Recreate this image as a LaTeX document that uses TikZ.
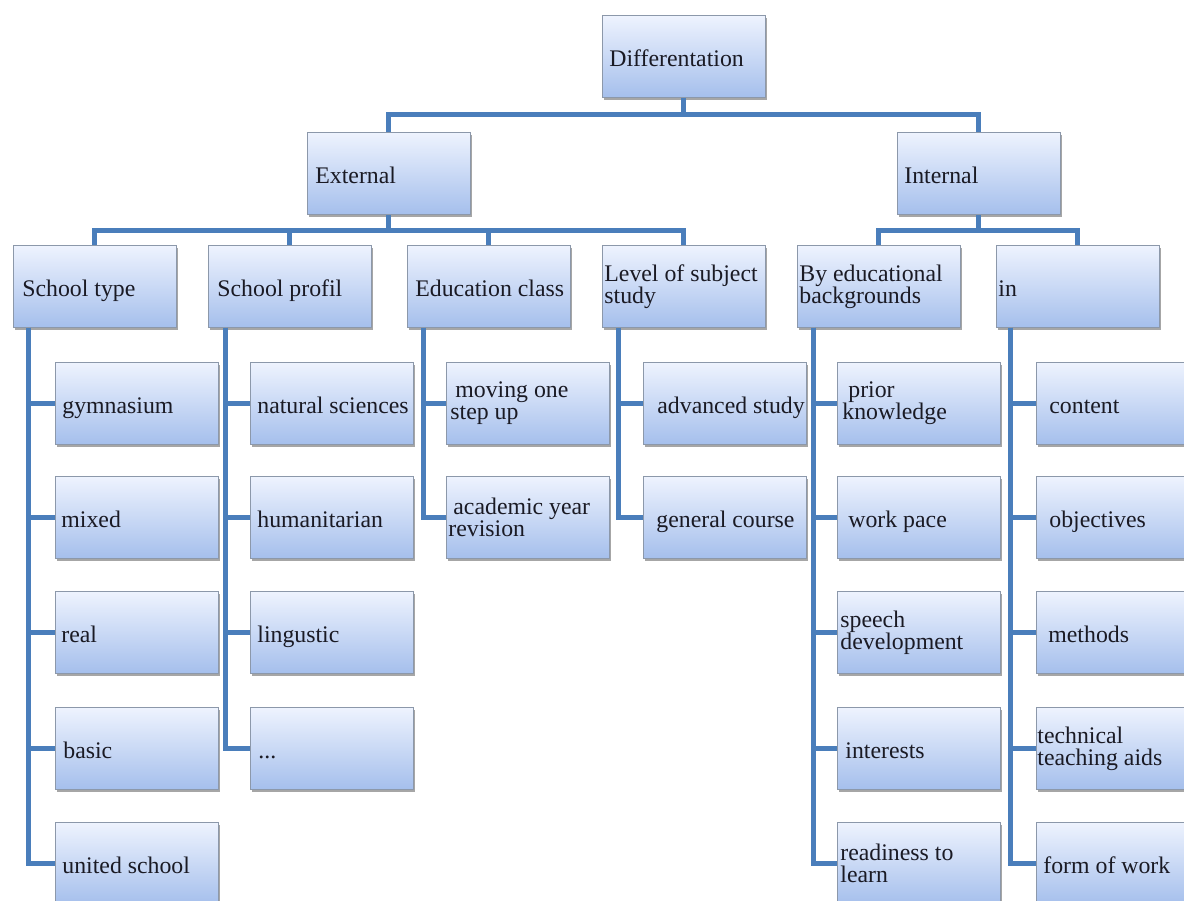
\documentclass[tikz,border=0pt]{standalone}
\usepackage{fontspec}
\setmainfont{Liberation Serif}
\usetikzlibrary{calc,shadows}
\setlength{\parindent}{0pt}
\definecolor{conn}{HTML}{4A7EBB}
\definecolor{boxtop}{HTML}{EEF3FE}
\definecolor{boxbot}{HTML}{A5BFEC}
\definecolor{boxline}{HTML}{8C98AA}
\definecolor{txt}{HTML}{1A1A24}
\tikzset{
  card/.style={rectangle, anchor=north west, draw=boxline, line width=0.8pt,
    top color=boxtop, bottom color=boxbot,
    minimum width=163pt, minimum height=82pt, text width=163pt,
    inner xsep=0pt, inner ysep=0pt, align=flush left,
    font=\fontsize{23.8pt}{22pt}\selectfont, text=txt,
    drop shadow={shadow xshift=1.5pt, shadow yshift=-2.5pt, opacity=0.35, fill=black}},
  one/.style={text height=20pt, text depth=0pt},
  link/.style={draw=conn, line width=5pt},
}
\begin{document}
\begin{tikzpicture}[x=1pt,y=-1pt]
\useasboundingbox (0,0) rectangle (1184,901);
\fill[white] (0,0) rectangle (1184,901);
\clip (0,0) rectangle (1184,901);

% level 0 and 1
\node[card,one] (diff) at (602,15) {\hspace*{7pt}Differentation};
\node[card,one] (ext) at (307,132) {\hspace*{8pt}External};
\node[card,one] (int) at (897,132) {\hspace*{7pt}Internal};

% level 2
\node[card,one] (st) at (13,245) {\hspace*{9pt}School type};
\node[card,one] (sp) at (208,245) {\hspace*{9pt}School profil};
\node[card,one] (ec) at (407,245) {\hspace*{8pt}\mbox{Education class}};
\node[card] (ls) at (602,245) {\hspace*{2pt}\mbox{Level of subject}\\\hspace*{2pt}study};
\node[card] (be) at (797,245) {\hspace*{2pt}\mbox{By educational}\\\hspace*{2pt}backgrounds};
\node[card,one] (inn) at (996,245) {\hspace*{2pt}in};

% School type children
\node[card,one] (gym) at (55,362) {\hspace*{7pt}gymnasium};
\node[card,one] (mix) at (55,476) {\hspace*{6pt}mixed};
\node[card,one] (real) at (55,591) {\hspace*{6pt}real};
\node[card,one] (basic) at (55,707) {\hspace*{8pt}basic};
\node[card,one] (unit) at (55,822) {\hspace*{7pt}united school};

% School profil children
\node[card,one] (nat) at (250,362) {\hspace*{7pt}\mbox{natural sciences}};
\node[card,one] (hum) at (250,476) {\hspace*{7pt}humanitarian};
\node[card,one] (ling) at (250,591) {\hspace*{7pt}lingustic};
\node[card,one] (dots) at (250,707) {\hspace*{8pt}...};

% Education class children
\node[card] (mov) at (446,362) {\hspace*{9pt}moving one\\\hspace*{4pt}step up};
\node[card] (acad) at (446,476) {\hspace*{7pt}\mbox{academic year}\\\hspace*{2pt}revision};

% Level of subject study children
\node[card,one] (adv) at (643,362) {\hspace*{14pt}\mbox{advanced study}};
\node[card,one] (gen) at (643,476) {\hspace*{13pt}\mbox{general course}};

% By educational backgrounds children
\node[card] (prior) at (837,362) {\hspace*{11pt}prior\\\hspace*{5pt}knowledge};
\node[card,one] (pace) at (837,476) {\hspace*{11pt}work pace};
\node[card] (speech) at (837,591) {\hspace*{3pt}speech\\\hspace*{3pt}development};
\node[card,one] (inter) at (837,707) {\hspace*{8pt}interests};
\node[card] (ready) at (837,822) {\hspace*{3pt}\mbox{readiness to}\\\hspace*{3pt}learn};

% in children
\node[card,one] (cont) at (1036,362) {\hspace*{13pt}content};
\node[card,one] (obj) at (1036,476) {\hspace*{13pt}objectives};
\node[card,one] (meth) at (1036,591) {\hspace*{12pt}methods};
\node[card] (tech) at (1036,707) {\hspace*{1pt}technical\\\hspace*{1pt}\mbox{teaching aids}};
\node[card,one] (form) at (1036,822) {\hspace*{7pt}\mbox{form of work}};

% connectors level 0 -> 1
\coordinate (b0) at ($(diff.south)+(0,17)$);
\draw[link] (diff.south) -- (b0);
\draw[link] (ext.north) |- (b0) -| (int.north);

% level 1 -> 2
\coordinate (b1) at ($(ext.south)+(0,16)$);
\draw[link] (ext.south) -- (b1);
\draw[link] (st.north) |- (b1) -| (ls.north);
\draw[link] (sp.north) -- (sp.north |- b1);
\draw[link] (ec.north) -- (ec.north |- b1);

\coordinate (b2) at ($(int.south)+(0,16)$);
\draw[link] (int.south) -- (b2);
\draw[link] (be.north) |- (b2) -| (inn.north);

% stems
\coordinate (sts) at ($(st.south west)+(15,0)$);
\foreach \c in {gym,mix,real,basic,unit} \draw[link] (sts) |- (\c.west);
\coordinate (sps) at ($(sp.south west)+(17,0)$);
\foreach \c in {nat,hum,ling,dots} \draw[link] (sps) |- (\c.west);
\coordinate (ecs) at ($(ec.south west)+(16,0)$);
\foreach \c in {mov,acad} \draw[link] (ecs) |- (\c.west);
\coordinate (lss) at ($(ls.south west)+(16,0)$);
\foreach \c in {adv,gen} \draw[link] (lss) |- (\c.west);
\coordinate (bes) at ($(be.south west)+(16,0)$);
\foreach \c in {prior,pace,speech,inter,ready} \draw[link] (bes) |- (\c.west);
\coordinate (inns) at ($(inn.south west)+(14,0)$);
\foreach \c in {cont,obj,meth,tech,form} \draw[link] (inns) |- (\c.west);
\end{tikzpicture}
\end{document}
